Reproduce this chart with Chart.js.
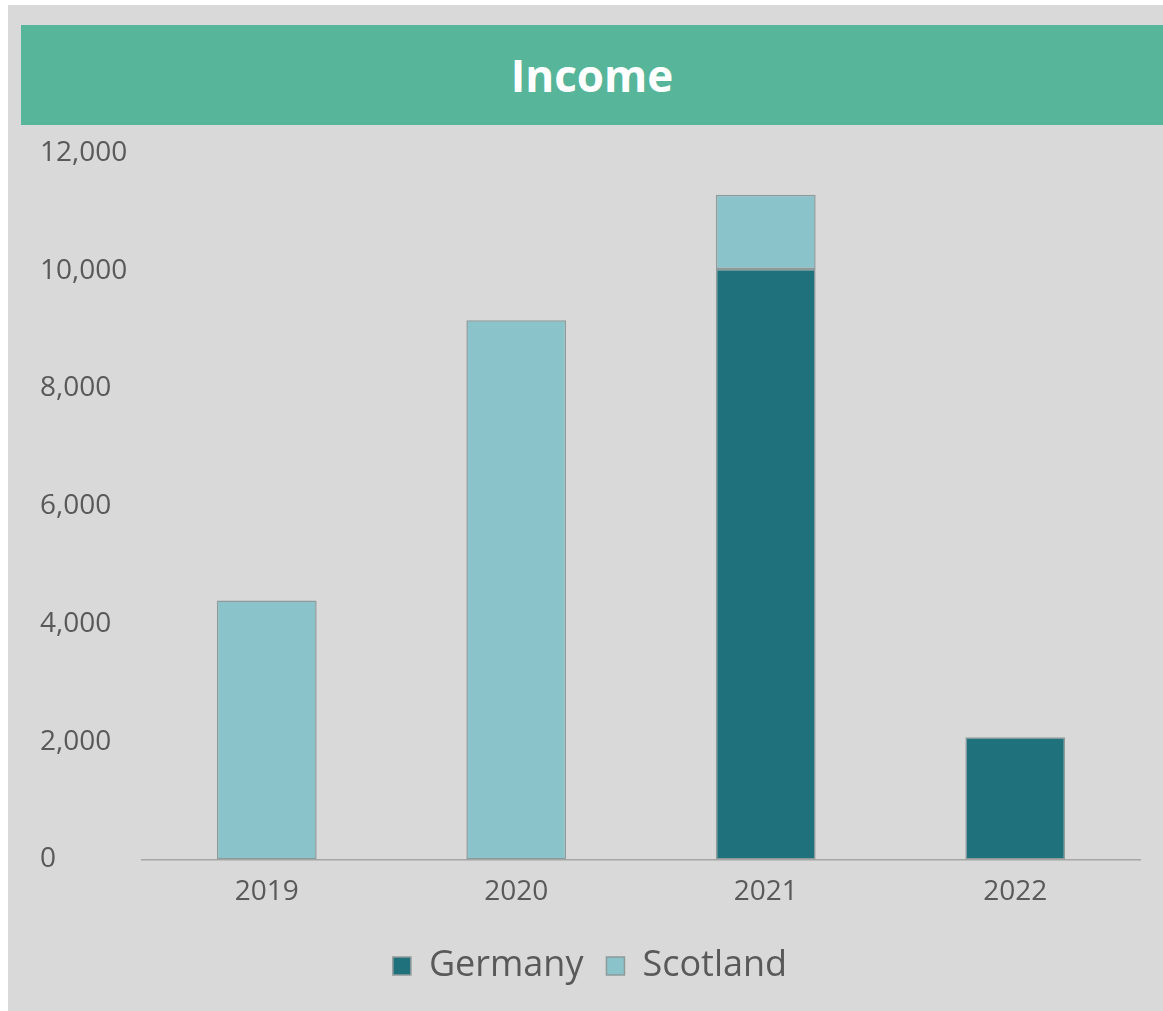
<!DOCTYPE html>
<html>
<head>
<meta charset="utf-8">
<script src="https://cdn.jsdelivr.net/npm/chart.js@4"></script>
<style>
  html, body { margin: 0; padding: 0; background: #ffffff; overflow: hidden; }
  #panel { position: absolute; left: 8px; top: 5px; width: 1155px; height: 1006px; background: #d9d9d9; }
  #title {
    position: absolute; left: 21px; top: 25px; width: 1142px; height: 100px;
    background: #57b59a; color: #ffffff;
    font: bold 44px "Open Sans", sans-serif;
    display: flex; align-items: center; justify-content: center;
  }
  #wrap { position: absolute; left: 8px; top: 125px; width: 1155px; height: 900px; }
</style>
</head>
<body>
<div id="panel"></div>
<div id="title">Income</div>
<div id="wrap"><canvas id="incomeChart"></canvas></div>
<script>
// values
const years = ['2019', '2020', '2021', '2022'];
const germany = [null, null, 10030, 2075];
const scotland = [4400, 9160, 1260, null];
const yTicks = [0, 2000, 4000, 6000, 8000, 10000, 12000];

const textColor = '#595959';

const ctx = document.getElementById('incomeChart').getContext('2d');
const incomeChart = new Chart(ctx, {
    type: 'bar',
    data: {
        labels: years,
        datasets: [{
            label: 'Germany',
            data: germany,
            backgroundColor: '#1f727b',
            borderColor: '#8f9a9b',
            borderWidth: 1.5,
            borderSkipped: false
        }, {
            label: 'Scotland',
            data: scotland,
            backgroundColor: '#8bc3ca',
            borderColor: '#8f9a9b',
            borderWidth: 1.5,
            borderSkipped: false
        }]
    },
    options: {
        responsive: true,
        maintainAspectRatio: false,
        animation: false,
        barPercentage: 0.4,
        categoryPercentage: 1,
        layout: { padding: { left: 32, right: 23, top: 28, bottom: 31 } },
        plugins: {
            title: { display: false },
            tooltip: { enabled: false },
            legend: {
                position: 'bottom',
                labels: {
                    boxWidth: 18,
                    boxHeight: 18,
                    padding: 23,
                    color: textColor,
                    font: { family: 'Open Sans', size: 36 }
                }
            }
        },
        scales: {
            x: {
                stacked: true,
                grid: { display: false, drawTicks: false },
                border: { display: true, color: '#a6a6a6', width: 1.5 },
                ticks: {
                    padding: 16,
                    color: textColor,
                    font: { family: 'Open Sans', size: 28 }
                }
            },
            y: {
                stacked: true,
                min: 0,
                max: 12000,
                afterBuildTicks: axis => { axis.ticks = yTicks.map(v => ({ value: v })); },
                afterFit: axis => { axis.width = 102; },
                grid: { display: false, drawTicks: false },
                border: { display: false },
                ticks: {
                    crossAlign: 'far',
                    padding: 1,
                    color: textColor,
                    font: { family: 'Open Sans', size: 28 },
                    callback: v => v.toLocaleString('en-US')
                }
            }
        }
    }
});
</script>
</body>
</html>
